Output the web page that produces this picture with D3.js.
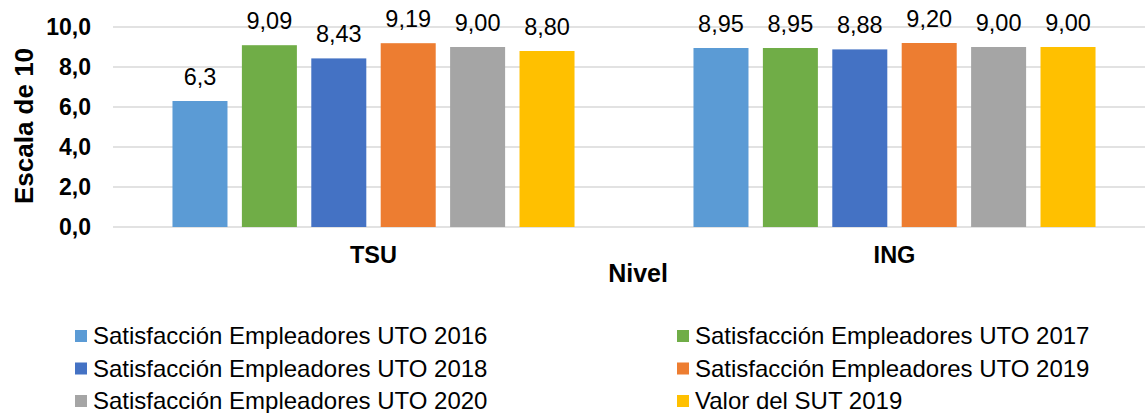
<!DOCTYPE html>
<html>
<head>
<meta charset="utf-8">
<script src="https://cdn.jsdelivr.net/npm/d3@7"></script>
<style>
  body { margin: 0; background: #fff; }
  svg { display: block; font-family: Arial, "Liberation Sans", sans-serif; }
  .grid line { stroke: #d9d9d9; stroke-width: 1.5; }
  .tick-label { font-weight: bold; font-size: 23px; fill: #000; }
  .cat-label { font-weight: bold; font-size: 23.5px; fill: #000; }
  .axis-title { font-weight: bold; font-size: 25px; fill: #000; }
  .y-title { font-size: 26px; }
  .value-label { font-size: 23.5px; fill: #000; }
  .legend-text { font-size: 24px; fill: #000; }
</style>
</head>
<body>
<div id="chart"></div>
<script>
// data
var niveles = ['TSU', 'ING'];
var series = [
  'Satisfacción Empleadores UTO 2016',
  'Satisfacción Empleadores UTO 2017',
  'Satisfacción Empleadores UTO 2018',
  'Satisfacción Empleadores UTO 2019',
  'Satisfacción Empleadores UTO 2020',
  'Valor del SUT 2019'
];
var colors = ['#5B9BD5', '#70AD47', '#4472C4', '#ED7D31', '#A5A5A5', '#FFC000'];
var tsuValues = [6.3, 9.09, 8.43, 9.19, 9.00, 8.80];
var ingValues = [8.95, 8.95, 8.88, 9.20, 9.00, 9.00];
var tsuLabels = ['6,3', '9,09', '8,43', '9,19', '9,00', '8,80'];
var ingLabels = ['8,95', '8,95', '8,88', '9,20', '9,00', '9,00'];
var yTicks = [0, 2, 4, 6, 8, 10];

(function () {
  var width = 1145, height = 413;
  var padding = {t: 27, l: 113, b: 186, r: -10};

  var svg = d3.select('#chart').append('svg')
    .attr('width', width)
    .attr('height', height);

  var rows = niveles.map(function(n, i) {
    return {
      nivel: n,
      values: i === 0 ? tsuValues : ingValues,
      labels: i === 0 ? tsuLabels : ingLabels
    };
  });

  var yScale = d3.scaleLinear()
    .domain([0, 10])
    .range([height - padding.b, padding.t]);

  var x0 = d3.scaleBand()
    .domain(niveles)
    .range([padding.l, width - padding.r]);

  var x1 = d3.scaleBand()
    .domain(d3.range(series.length))
    .range([0, x0.bandwidth()])
    .paddingInner(0.2075)
    .paddingOuter(0.857);

  var comma = d3.formatLocale({decimal: ',', thousands: '.', grouping: [3], currency: ['', '']}).format('.1f');

  // gridlines
  var grid = svg.append('g').attr('class', 'grid');
  grid.selectAll('line')
    .data(yTicks)
    .enter().append('line')
    .attr('x1', padding.l)
    .attr('x2', width - padding.r)
    .attr('y1', function(d) { return yScale(d); })
    .attr('y2', function(d) { return yScale(d); });

  svg.append('g')
    .selectAll('text')
    .data(yTicks)
    .enter().append('text')
    .attr('class', 'tick-label')
    .attr('x', padding.l - 22)
    .attr('y', function(d) { return yScale(d) + 8; })
    .style('text-anchor', 'end')
    .text(function(d) { return comma(d); });

  // bars
  var groups = svg.append('g').selectAll('g')
    .data(rows)
    .enter().append('g')
    .attr('transform', function(d) { return 'translate(' + x0(d.nivel) + ',0)'; });

  groups.selectAll('rect')
    .data(function(d) { return d.values.map(function(v, i) { return {v: v, i: i}; }); })
    .enter().append('rect')
    .attr('x', function(d) { return x1(d.i); })
    .attr('y', function(d) { return yScale(d.v); })
    .attr('width', x1.bandwidth())
    .attr('height', function(d) { return yScale(0) - yScale(d.v); })
    .attr('fill', function(d) { return colors[d.i]; });

  groups.selectAll('.value-label')
    .data(function(d) { return d.values.map(function(v, i) { return {v: v, i: i, t: d.labels[i]}; }); })
    .enter().append('text')
    .attr('class', 'value-label')
    .attr('x', function(d) { return x1(d.i) + x1.bandwidth() / 2; })
    .attr('y', function(d) { return yScale(d.v) - 16; })
    .style('text-anchor', 'middle')
    .text(function(d) { return d.t; });

  // category labels
  svg.append('g').selectAll('text')
    .data(niveles)
    .enter().append('text')
    .attr('class', 'cat-label')
    .attr('x', function(d) { return x0(d) + x0.bandwidth() / 2; })
    .attr('y', 263)
    .style('text-anchor', 'middle')
    .text(function(d) { return d; });

  // axis titles
  svg.append('text')
    .attr('class', 'axis-title')
    .attr('transform', 'translate(638, 282)')
    .style('text-anchor', 'middle')
    .text('Nivel');

  svg.append('text')
    .attr('class', 'axis-title y-title')
    .attr('transform', 'translate(33, 126) rotate(-90)')
    .style('text-anchor', 'middle')
    .text('Escala de 10');

  // legend
  var legend = svg.append('g').selectAll('g')
    .data(series)
    .enter().append('g')
    .attr('transform', function(d, i) {
      var col = i % 2, row = Math.floor(i / 2);
      return 'translate(' + (col === 0 ? 75 : 677) + ',' + (330 + row * 32.5) + ')';
    });

  legend.append('rect')
    .attr('x', 0)
    .attr('y', 0)
    .attr('width', 12)
    .attr('height', 12)
    .attr('fill', function(d, i) { return colors[i]; });

  legend.append('text')
    .attr('class', 'legend-text')
    .attr('x', 18)
    .attr('y', 14)
    .text(function(d) { return d; });
})();
</script>
</body>
</html>
